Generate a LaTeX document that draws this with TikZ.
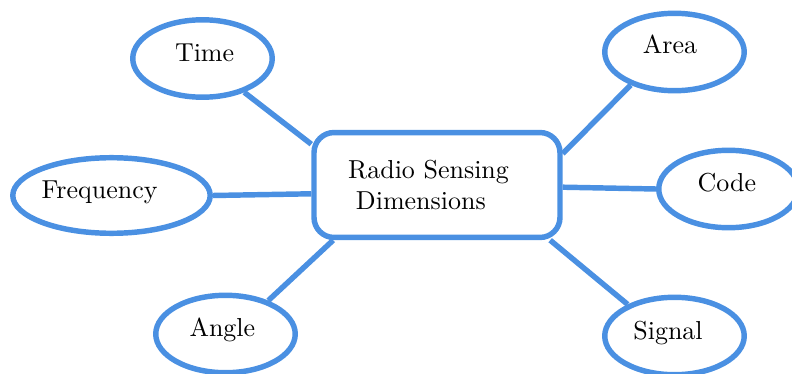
\documentclass[tikz,border=0pt]{standalone}
\usetikzlibrary{shapes.geometric}
\definecolor{mapblue}{HTML}{4A90E2}
\begin{document}
\begin{tikzpicture}[x=0.385pt,y=-0.385pt,
		topic/.style={draw=mapblue,line width=2.1pt,ellipse,inner sep=0pt,minimum width=53.7pt,minimum height=29.8pt},
		tag/.style={text height=1.5ex,text depth=1ex,inner sep=0pt},
		hub/.style={draw=mapblue,line width=2.1pt,rounded corners=7.7pt,inner sep=0pt,minimum width=94.7pt,minimum height=40.4pt,align=left},
		link/.style={draw=mapblue,line width=2.1pt}]
		\useasboundingbox (0,0) rectangle (792,374);
		\node [hub] (dims) at (437,185) {Radio Sensing\hspace*{6.5pt}\\\hspace*{3pt}Dimensions};
		\node [topic,label={[tag,xshift=0.8pt]center:Time}] (time) at (202.5,58.5) {};
		\node [topic,label={[tag,xshift=-1.7pt,yshift=0.5pt]center:Area}] (area) at (674.5,52) {};
		\node [topic,minimum width=76pt,minimum height=29.1pt,label={[tag,xshift=-4.6pt]center:Frequency}] (freq) at (111.5,195.5) {};
		\node [topic,label={[tag,xshift=-0.6pt]center:Code}] (code) at (728.5,189) {};
		\node [topic,label={[tag,xshift=-1.2pt]center:Angle}] (angle) at (225.5,334) {};
		\node [topic,label={[tag,xshift=-2.5pt,yshift=-0.3pt]center:Signal}] (signal) at (674.5,336) {};
		\draw [link] (time.-39) -- (dims.162.5);
		\draw [link] (area.-143) -- (dims.14.6);
		\draw [link] (freq.east) -- (dims.184.6);
		\draw [link] (dims.-1.9) -- (code.west);
		\draw [link] (angle.38.7) -- (dims.208.3);
		\draw [link] (signal.146.3) -- (dims.-26);
	\end{tikzpicture}
\end{document}
